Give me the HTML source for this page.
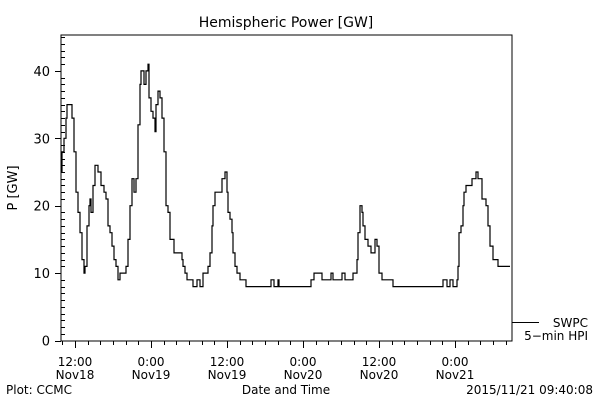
<!DOCTYPE html>
<html><head><meta charset="utf-8"><style>
html,body{margin:0;padding:0;background:#fff;}
svg{display:block;font-family:"DejaVu Sans","Liberation Sans",sans-serif;}
</style></head><body>
<svg id="chart" width="600" height="400">
<text x="286" y="27" font-size="14" text-anchor="middle">Hemispheric Power [GW]</text>
<rect x="61" y="35" width="451" height="306" fill="none" stroke="#000" stroke-width="1"/>
<g id="yaxis"></g>
<g id="xaxis"></g>
<polyline id="series" fill="none" stroke="#000" stroke-width="1.2"/>
<text transform="translate(17,188) rotate(-90)" font-size="13" text-anchor="middle">P [GW]</text>
<g>
<line x1="512" y1="322.5" x2="539" y2="322.5" stroke="#000"/>
<text x="588" y="327" font-size="12" text-anchor="end">SWPC</text>
<text x="588" y="340" font-size="12" text-anchor="end">5−min HPI</text>
</g>
<text x="6" y="394" font-size="12">Plot: CCMC</text>
<text x="286" y="394" font-size="12" text-anchor="middle">Date and Time</text>
<text x="593" y="394" font-size="12" text-anchor="end">2015/11/21 09:40:08</text>
</svg>
<script>
const times = [9.79,9.95,10.26,10.58,10.74,11.21,11.53,11.84,12.16,12.47,12.79,13.11,13.42,13.58,13.89,14.21,14.37,14.53,14.84,15.16,15.47,15.63,15.95,16.11,16.42,16.58,16.89,17.21,17.53,17.84,18.16,18.47,18.79,19.11,19.74,20.05,20.37,20.68,21.0,21.32,21.63,21.95,22.26,22.42,22.74,22.89,23.21,23.53,23.68,24.0,24.32,24.63,24.79,25.11,25.42,25.74,26.05,26.37,26.68,27.0,27.63,28.89,29.05,29.37,29.68,30.63,31.26,31.42,31.74,32.21,33.0,33.32,33.63,33.79,34.11,34.89,35.21,35.68,36.0,36.16,36.47,36.79,36.95,37.26,37.58,38.05,39.0,42.95,43.42,44.05,44.21,49.26,49.74,51.0,52.42,52.74,54.16,54.63,55.89,56.53,56.68,57.0,57.32,57.47,57.79,58.26,58.74,59.37,59.68,60.0,60.47,62.21,70.11,70.74,71.21,71.68,72.32,72.47,72.63,72.95,73.26,73.42,73.74,74.68,75.32,75.63,76.26,76.89,77.21,77.53,78.0,78.79,80.68];
const power = [25,28,30,33,35,35,33,28,22,19,16,12,10,11,17,20,21,19,23,26,26,25,25,23,23,22,21,17,16,14,12,11,9,10,10,11,15,20,24,22,24,32,38,40,40,38,40,41,36,34,33,31,35,37,36,33,28,20,19,15,13,12,11,10,9,8,9,9,8,10,11,13,17,20,22,22,24,25,22,19,18,16,13,11,10,9,8,9,8,9,8,9,10,9,10,9,10,9,10,12,16,20,19,17,15,14,13,15,14,10,9,8,9,8,9,8,9,11,16,17,20,22,23,24,25,24,21,20,17,14,12,11,11];
const yTicks = [0,10,20,30,40];
const xTickHours = [12,24,36,48,60,72];
const xTickLabels = [["12:00","Nov18"],["0:00","Nov19"],["12:00","Nov19"],["0:00","Nov20"],["12:00","Nov20"],["0:00","Nov21"]];

const NS="http://www.w3.org/2000/svg";
const xs = h => 75 + (h-12)*76/12;
const ys = v => 340.5 - v*6.74;
function mk(tag, attrs, parent){const e=document.createElementNS(NS,tag);for(const k in attrs)e.setAttribute(k,attrs[k]);parent.appendChild(e);return e;}
const ya=document.getElementById('yaxis'), xa=document.getElementById('xaxis');
for(let v=0; v<=45; v++){
  const y=Math.round(ys(v))+0.5;
  const t=mk('line',{x1:61,x2:v%10===0?55:65,y1:y,y2:y,stroke:'#000'},ya);
  
  
}
yTicks.forEach(v=>{
  const t=mk('text',{x:50,y:ys(v)+5,'font-size':13,'text-anchor':'end'},ya);
  t.textContent=v;
  
  
});
for(let h=10; h<=81; h+=2){
  const x=Math.round(xs(h))+0.5;
  const major = xTickHours.includes(h);
  const t=mk('line',{x1:x,x2:x,y1:341,y2:major?348:345,stroke:'#000'},xa);
  
  
}
xTickHours.forEach((h,i)=>{
  const t=mk('text',{x:xs(h),y:366,'font-size':12,'text-anchor':'middle'},xa);
  t.textContent=xTickLabels[i][0];
  
  
  const d=mk('text',{x:xs(h),y:379,'font-size':12,'text-anchor':'middle'},xa);
  d.textContent=xTickLabels[i][1];
  
  
});
// step-after rendering: hold each value until the next sample time
const pts=[];
times.forEach((t,i)=>{
  if(i>0) pts.push(xs(t).toFixed(1)+','+ys(power[i-1]).toFixed(1));
  pts.push(xs(t).toFixed(1)+','+ys(power[i]).toFixed(1));
});
document.getElementById('series').setAttribute('points', pts.join(' '));
</script>
</body></html>
